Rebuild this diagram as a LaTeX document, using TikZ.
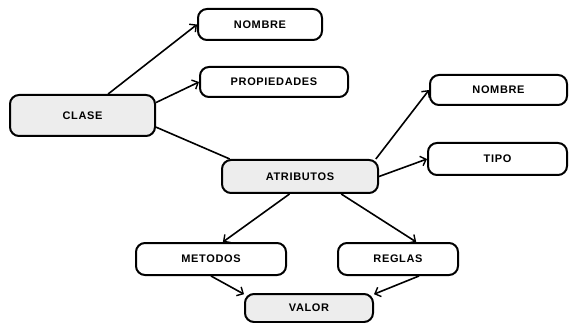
\documentclass[tikz,border=0pt]{standalone}
\usepackage{fontspec}
\setmainfont{Liberation Sans}[LetterSpace=6]
\usetikzlibrary{arrows.meta}
\begin{document}
\begin{tikzpicture}[x=1pt,y=-1pt,
  concept/.style={draw=black, line width=2pt, rounded corners=9pt,
    minimum width=#1, minimum height=31pt, inner sep=0pt,
    font=\fontsize{11}{13}\selectfont\bfseries, fill=white},
  shaded/.style={fill=gray!14},
  link/.style={line width=1.6pt},
  arrowlink/.style={link, -{Straight Barb[length=5pt,width=10pt,line width=1.4pt]}}]
  \useasboundingbox (0,0) rectangle (570,323);

  % concept boxes
  \node[concept=145pt, minimum height=41pt, shaded] (clase)  at (82.5,115.5) {CLASE};
  \node[concept=124pt] (nom1)   at (260,24.5) {NOMBRE};
  \node[concept=148pt, minimum height=30pt] (prop) at (274,82) {PROPIEDADES};
  \node[concept=156pt, minimum height=33pt, shaded] (atrib) at (300,176.5) {ATRIBUTOS};
  \node[concept=137pt, minimum height=30pt] (nom2) at (498.5,90) {NOMBRE};
  \node[concept=139pt, minimum height=32pt] (tipo) at (497.5,159) {TIPO};
  \node[concept=150pt, minimum height=32pt] (metod) at (211,259) {METODOS};
  \node[concept=120pt, minimum height=32pt] (reglas) at (398,259) {REGLAS};
  \node[concept=128pt, minimum height=28pt, shaded] (valor) at (309,308) {VALOR};

  % links from CLASE
  \draw[arrowlink] (clase.40) -- (nom1.west);
  \draw[arrowlink] (clase.10) -- (prop.west);
  \draw[link] (clase.-9) -- (atrib.166);

  % links from ATRIBUTOS
  \draw[arrowlink] (atrib.13) -- (nom2.west);
  \draw[arrowlink] (atrib.east) -- (tipo.west);
  \draw[arrowlink] (atrib.-121) -- (metod.55);
  \draw[arrowlink] (atrib.-23.5) -- (reglas.43);

  % links into VALOR
  \draw[arrowlink] (metod.south) -- (valor.168);
  \draw[arrowlink] (reglas.-39) -- (valor.12);
\end{tikzpicture}
\end{document}
